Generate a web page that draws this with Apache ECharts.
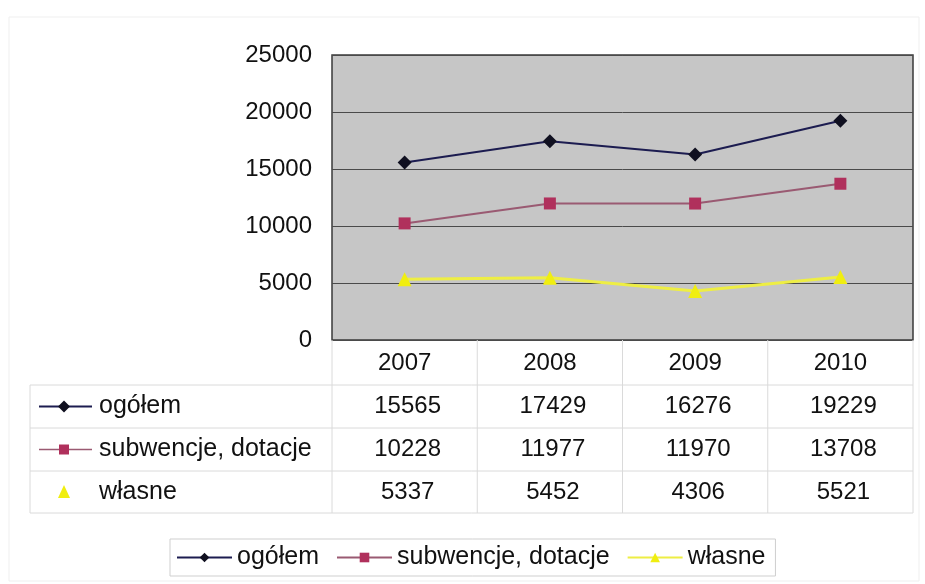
<!DOCTYPE html>
<html><head><meta charset="utf-8">
<script src="https://cdn.jsdelivr.net/npm/echarts@6/dist/echarts.min.js"></script>
<style>html,body{margin:0;padding:0;background:#fff}#c{width:925px;height:584px}</style>
</head><body><div id="c"></div>
<script>
const categories = ['2007', '2008', '2009', '2010'];
const ogolem = [15565, 17429, 16276, 19229];
const subwencje = [10228, 11977, 11970, 13708];
const wlasne = [5337, 5452, 4306, 5521];
const seriesNames = ['ogółem', 'subwencje, dotacje', 'własne'];
const yTicks = [0, 5000, 10000, 15000, 20000, 25000];

const FONT = "'Liberation Sans', Arial, sans-serif";
const FS = 24;
const FS_LBL = 25;
const styles = [
  {line: '#1c1c50', sym: 'diamond', symCol: '#101020', size: 14, w: 2},
  {line: '#9a5a72', sym: 'rect', symCol: '#b0305c', size: 12, w: 2},
  {line: '#eeee44', sym: 'triangle', symCol: '#f0ee10', size: 14, w: 3}
];
const allData = [ogolem, subwencje, wlasne];

const chart = echarts.init(document.getElementById('c'), null, {renderer: 'canvas'});
const option = {
  backgroundColor: '#fff',
  animation: false,
  textStyle: {fontFamily: FONT},
  grid: {left: 332, right: 12, top: 55, bottom: 244, show: true,
    backgroundColor: '#c6c6c6', borderColor: '#3a3a3a', borderWidth: 1.5},
  xAxis: {type: 'category', data: categories, boundaryGap: true,
    axisLine: {show: false}, axisTick: {show: false},
    axisLabel: {margin: 11, fontSize: FS, color: '#111', fontFamily: FONT}},
  yAxis: {type: 'value', min: yTicks[0], max: yTicks[yTicks.length - 1], interval: 5000,
    axisLine: {show: false}, axisTick: {show: false},
    axisLabel: {margin: 20, fontSize: FS, color: '#111', fontFamily: FONT, formatter: v => String(v)},
    splitLine: {lineStyle: {color: '#4a4a4a', width: 1}}},
  legend: {top: 539, left: 170, data: seriesNames, itemWidth: 55, itemHeight: 12, itemGap: 17,
    textStyle: {fontSize: FS_LBL, color: '#111', fontFamily: FONT},
    borderColor: '#cfcfcf', borderWidth: 1, padding: [6, 10, 6, 6]},
  series: seriesNames.map((n, i) => ({
    name: n, type: 'line', data: allData[i],
    symbol: styles[i].sym, symbolSize: styles[i].size,
    lineStyle: {color: styles[i].line, width: styles[i].w},
    itemStyle: {color: styles[i].symCol}
  }))
};
chart.setOption(option);

// data table below plot
const rowBounds = [340, 385, 428, 471, 513];
const tableLeft = 30;
const centers = categories.map(c => chart.convertToPixel({xAxisIndex: 0}, c));
const colW = centers.length > 1 ? centers[1] - centers[0] : 145;
const colEdges = [centers[0] - colW / 2].concat(centers.map(c => c + colW / 2));
const g = [];
const lineCol = '#dadada';
g.push({type: 'rect', shape: {x: 9, y: 17, width: 910, height: 564},
  style: {fill: 'none', stroke: '#efefef', lineWidth: 1}, z: -1});
colEdges.forEach(x => {
  g.push({type: 'line', shape: {x1: x, y1: rowBounds[0], x2: x, y2: rowBounds[4]},
    style: {stroke: lineCol, lineWidth: 1}});
});
g.push({type: 'line', shape: {x1: tableLeft, y1: rowBounds[1], x2: tableLeft, y2: rowBounds[4]},
  style: {stroke: lineCol, lineWidth: 1}});
for (let r = 1; r < rowBounds.length; r++) {
  g.push({type: 'line', shape: {x1: tableLeft, y1: rowBounds[r], x2: colEdges[colEdges.length - 1], y2: rowBounds[r]},
    style: {stroke: lineCol, lineWidth: 1}});
}
allData.forEach((arr, i) => {
  const yc = (rowBounds[i + 1] + rowBounds[i + 2]) / 2;
  if (i < 2) {
    g.push({type: 'line', shape: {x1: 39, y1: yc, x2: 92, y2: yc},
      style: {stroke: styles[i].line, lineWidth: i === 0 ? 2 : 1.5}});
  }
  if (styles[i].sym === 'diamond') {
    g.push({type: 'polygon', shape: {points: [[64, yc - 6], [70, yc], [64, yc + 6], [58, yc]]}, style: {fill: styles[i].symCol}});
  } else if (styles[i].sym === 'rect') {
    g.push({type: 'rect', shape: {x: 59, y: yc - 5, width: 10, height: 10}, style: {fill: styles[i].symCol}});
  } else {
    g.push({type: 'polygon', shape: {points: [[64, yc - 7], [70, yc + 6], [58, yc + 6]]}, style: {fill: styles[i].symCol}});
  }
  g.push({type: 'text', style: {text: seriesNames[i], x: 99, y: yc, verticalAlign: 'middle',
    font: FS_LBL + 'px ' + FONT, fill: '#111'}});
  arr.forEach((v, j) => {
    g.push({type: 'text', style: {text: String(v), x: centers[j] + 3, y: yc, align: 'center',
      verticalAlign: 'middle', font: FS + 'px ' + FONT, fill: '#111'}});
  });
});
chart.setOption({graphic: {elements: g}});
</script></body></html>
